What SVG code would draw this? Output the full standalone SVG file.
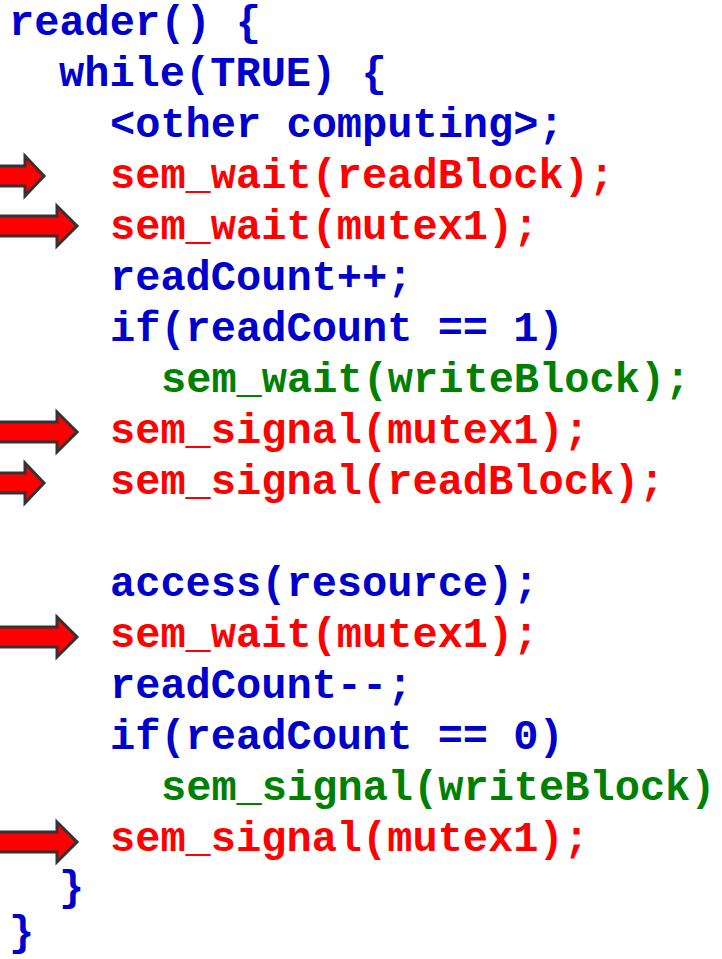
<svg xmlns="http://www.w3.org/2000/svg" width="722" height="959" viewBox="0 0 722 959">
<style>
text{font-family:"Liberation Mono","Courier New",monospace;font-weight:bold;font-size:42px;white-space:pre}
.b{fill:#0000CC}.r{fill:#FF0000}.g{fill:#008000}
.arr{fill:#FF0000;stroke:#333333;stroke-width:3;stroke-linejoin:miter}
</style>
<defs>
<path id="longArrow" class="arr" d="M-5,-10 H57 V-20 L77,0 L57,20 V10 H-5 Z"/>
<path id="shortArrow" class="arr" d="M-5,-10 H25 V-20 L44,0 L25,20 V10 H-5 Z"/>
</defs>
<g id="code">
<text x="9" y="35" class="b">reader() {</text>
<text x="59" y="86" class="b">while(TRUE) {</text>
<text x="110" y="137" class="b">&lt;other computing&gt;;</text>
<text x="110" y="188" class="r">sem_wait(readBlock);</text>
<text x="110" y="239" class="r">sem_wait(mutex1);</text>
<text x="110" y="290" class="b">readCount++;</text>
<text x="110" y="341" class="b">if(readCount == 1)</text>
<text x="161" y="392" class="g">sem_wait(writeBlock);</text>
<text x="110" y="443" class="r">sem_signal(mutex1);</text>
<text x="110" y="494" class="r">sem_signal(readBlock);</text>
<text x="110" y="596" class="b">access(resource);</text>
<text x="110" y="647" class="r">sem_wait(mutex1);</text>
<text x="110" y="698" class="b">readCount--;</text>
<text x="110" y="749" class="b">if(readCount == 0)</text>
<text x="161" y="800" class="g">sem_signal(writeBlock)</text>
<text x="110" y="851" class="r">sem_signal(mutex1);</text>
<text x="59" y="900" class="b">}</text>
<text x="9" y="945" class="b">}</text>
</g>
<g id="arrows">
<use href="#shortArrow" x="0" y="176"/>
<use href="#longArrow" x="0" y="226"/>
<use href="#longArrow" x="0" y="432"/>
<use href="#shortArrow" x="0" y="483"/>
<use href="#longArrow" x="0" y="637"/>
<use href="#longArrow" x="0" y="842"/>
</g>
</svg>
